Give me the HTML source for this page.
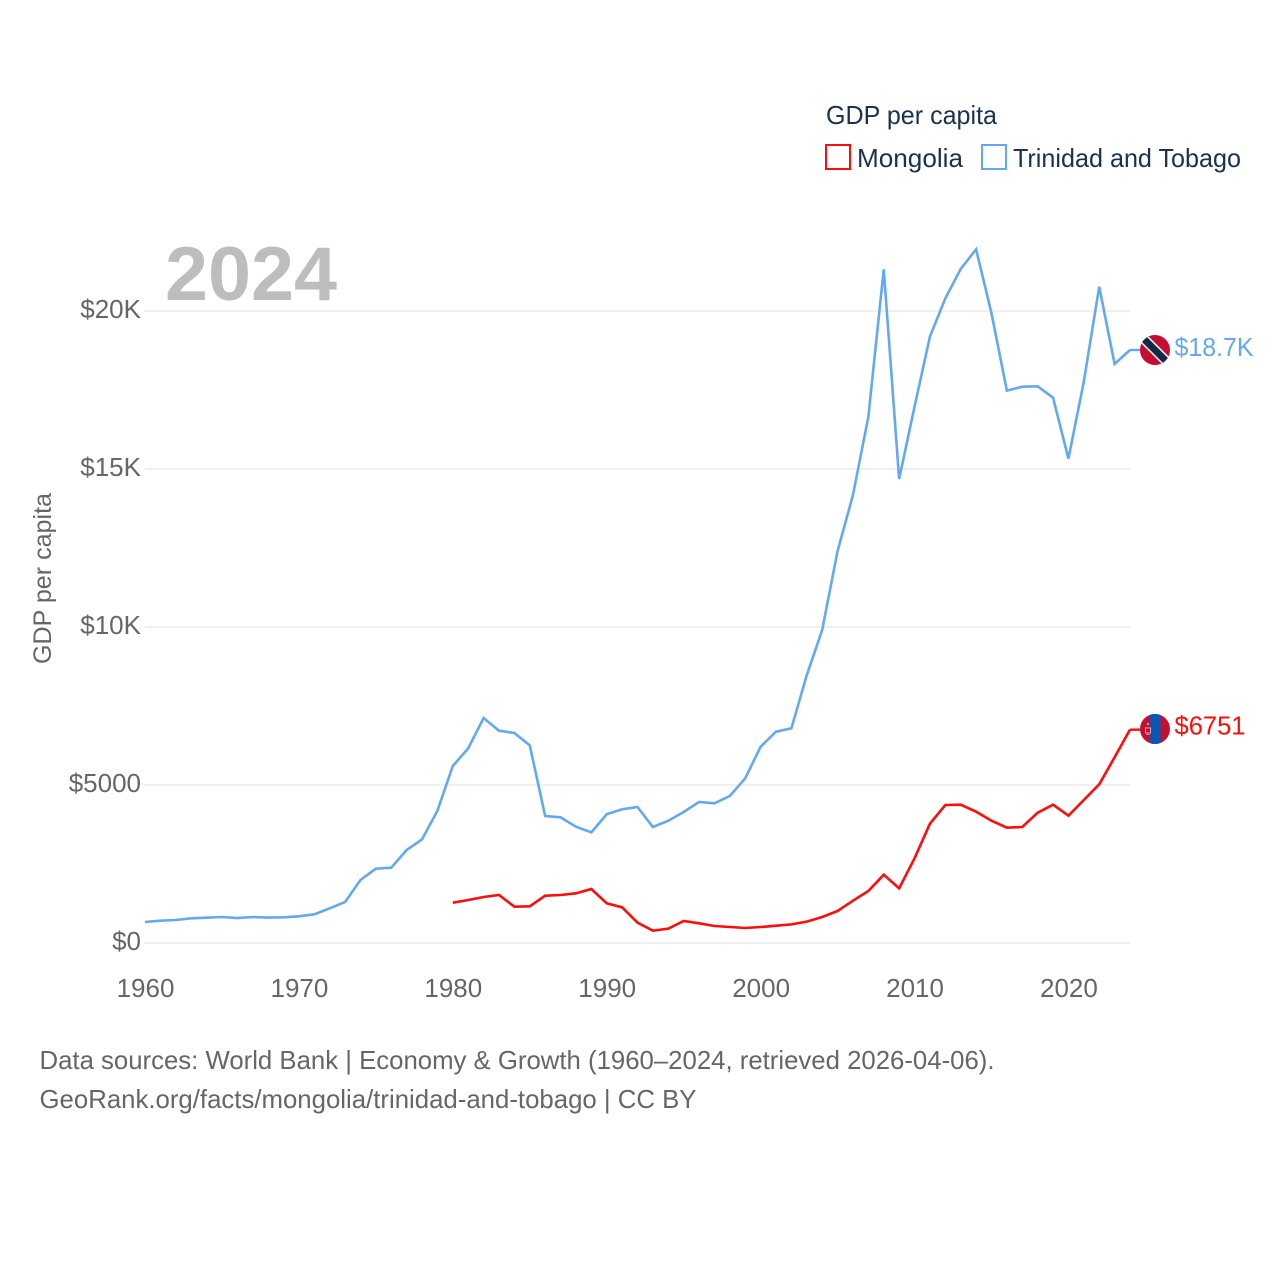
<!DOCTYPE html>
<html lang="en">
<head>
<meta charset="utf-8">
<title>GDP per capita: Mongolia and Trinidad and Tobago</title>
<style>
html,body{margin:0;padding:0;background:#fff;width:1280px;height:1280px;overflow:hidden}
svg{display:block}
text{font-family:"Liberation Sans",sans-serif}
.tick{font-size:26px;fill:#666}
.legend{font-size:26px;fill:#1b3152}
</style>
</head>
<body>
<svg id="chart" xmlns="http://www.w3.org/2000/svg" width="1280" height="1280" viewBox="0 0 1280 1280">
  <rect x="0" y="0" width="1280" height="1280" fill="#fff"/>
  <g id="grid"></g>
  <text x="165" y="300" font-size="76" font-weight="700" fill="#bdbdbd" textLength="172" lengthAdjust="spacingAndGlyphs">2024</text>
  <g id="yticks"></g>
  <g id="xticks"></g>
  <text transform="translate(51 664) rotate(-90)" font-size="25" fill="#666" textLength="171" lengthAdjust="spacingAndGlyphs">GDP per capita</text>
  <g id="series"></g>

  <g>
    <text class="legend" x="826" y="124" textLength="171" lengthAdjust="spacingAndGlyphs">GDP per capita</text>
    <g>
      <rect x="826" y="145" width="24" height="24" fill="none" stroke="#ff0d0d" stroke-width="2"/>
      <text class="legend" x="857" y="167" textLength="106" lengthAdjust="spacingAndGlyphs">Mongolia</text>
    </g>
    <g>
      <rect x="982" y="145" width="24" height="24" fill="none" stroke="#63a9ef" stroke-width="2"/>
      <text class="legend" x="1013" y="167" textLength="228" lengthAdjust="spacingAndGlyphs">Trinidad and Tobago</text>
    </g>
  </g>

  <defs>
    <clipPath id="flag-clip"><circle cx="0" cy="0" r="15"/></clipPath>
  </defs>
  <g id="flag-tt">
    <g clip-path="url(#flag-clip)">
      <rect x="-16" y="-16" width="32" height="32" fill="#c60c30"/>
      <line x1="-16" y1="-16" x2="16" y2="16" stroke="#fff" stroke-width="10"/>
      <line x1="-16" y1="-16" x2="16" y2="16" stroke="#14294a" stroke-width="7"/>
    </g>
  </g>
  <g id="flag-mn">
    <g clip-path="url(#flag-clip)">
      <rect x="-16" y="-16" width="32" height="32" fill="#c4102f"/>
      <rect x="-5.5" y="-16" width="11" height="32" fill="#0a56b4"/>
      <rect x="-9.5" y="-1" width="5" height="5" fill="none" stroke="#f3a0a8" stroke-width="1"/>
      <rect x="-8" y="-6" width="2" height="2" fill="#f3a0a8"/>
      <rect x="-8.5" y="5" width="3" height="1" fill="#f3a0a8"/>
    </g>
  </g>
  <text id="value-tt" x="1174.5" font-size="26" fill="#63a9ef" textLength="79" lengthAdjust="spacingAndGlyphs"></text>
  <text id="value-mn" x="1174.5" font-size="26" fill="#ff0d0d" textLength="71" lengthAdjust="spacingAndGlyphs"></text>

  <g>
    <text x="39.5" y="1069" font-size="26" fill="#666" textLength="955" lengthAdjust="spacingAndGlyphs">Data sources: World Bank | Economy &amp; Growth (1960–2024, retrieved 2026-04-06).</text>
    <text x="39.5" y="1108" font-size="26" fill="#666" textLength="657" lengthAdjust="spacingAndGlyphs">GeoRank.org/facts/mongolia/trinidad-and-tobago | CC BY</text>
  </g>
</svg>
<script>
const years = [1960,1961,1962,1963,1964,1965,1966,1967,1968,1969,1970,1971,1972,1973,1974,1975,1976,1977,1978,1979,1980,1981,1982,1983,1984,1985,1986,1987,1988,1989,1990,1991,1992,1993,1994,1995,1996,1997,1998,1999,2000,2001,2002,2003,2004,2005,2006,2007,2008,2009,2010,2011,2012,2013,2014,2015,2016,2017,2018,2019,2020,2021,2022,2023,2024];
const trinidadValues = [665,705,728,780,800,823,790,823,806,813,845,908,1097,1297,1994,2352,2383,2943,3281,4187,5601,6160,7120,6718,6646,6256,4019,3977,3681,3503,4073,4231,4304,3671,3870,4146,4462,4420,4652,5211,6212,6687,6794,8480,9905,12405,14177,16655,21319,14684,16972,19187,20400,21329,21952,19927,17478,17604,17616,17257,15327,17763,20769,18323,18766];
const mongoliaYears = [1980,1981,1982,1983,1984,1985,1986,1987,1988,1989,1990,1991,1992,1993,1994,1995,1996,1997,1998,1999,2000,2001,2002,2003,2004,2005,2006,2007,2008,2009,2010,2011,2012,2013,2014,2015,2016,2017,2018,2019,2020,2021,2022,2023,2024];
const mongoliaValues = [1275,1361,1456,1519,1149,1160,1498,1519,1572,1709,1255,1129,643,390,454,696,622,538,506,475,506,549,590,675,823,1013,1339,1646,2162,1730,2679,3775,4367,4377,4155,3870,3649,3671,4124,4377,4028,4525,5022,5877,6751];
const yTickValues = [0,5000,10000,15000,20000];
const yTickLabels = ["$0","$5000","$10K","$15K","$20K"];
const xTickValues = [1960,1970,1980,1990,2000,2010,2020];
const trinidadLabel = "$18.7K";
const mongoliaLabel = "$6751";

const NS = "http://www.w3.org/2000/svg";
const xScale = function (year) { return 145 + (year - 1960) * (1130 - 145) / 64; };
const yScale = function (value) { return 943 - value * 0.0316; };
function make(tag, parent, attrs) {
  const el = document.createElementNS(NS, tag);
  for (const key in attrs) { el.setAttribute(key, attrs[key]); }
  parent.appendChild(el);
  return el;
}
const gridGroup = document.getElementById("grid");
const yGroup = document.getElementById("yticks");
const xGroup = document.getElementById("xticks");
const seriesGroup = document.getElementById("series");

yTickValues.forEach(function (value, i) {
  const line = make("line", gridGroup, { x1: xScale(1960), x2: xScale(2024), y1: yScale(value), y2: yScale(value), stroke: "#ececec", "stroke-width": 1.6 });
  
  
  const label = make("text", yGroup, { x: 141, y: yScale(value) + 7, "text-anchor": "end", class: "tick" });
  
  
  label.textContent = yTickLabels[i];
});
xTickValues.forEach(function (year) {
  const label = make("text", xGroup, { x: xScale(year) + 0.5, y: 997, "text-anchor": "middle", class: "tick" });
  
  
  label.textContent = String(year);
});
function pointsFor(xs, ys) {
  return xs.map(function (year, i) { return xScale(year).toFixed(2) + "," + yScale(ys[i]).toFixed(2); }).join(" ");
}
const trinidadLine = make("polyline", seriesGroup, { points: pointsFor(years, trinidadValues), fill: "none", stroke: "#63a9ef", "stroke-width": 2.6, "stroke-linejoin": "miter" });


const mongoliaLine = make("polyline", seriesGroup, { points: pointsFor(mongoliaYears, mongoliaValues), fill: "none", stroke: "#ff0d0d", "stroke-width": 2.6, "stroke-linejoin": "miter" });



function endMarker(flagId, labelId, labelText, lastValue, color, connectorName, flagDy, labelDy) {
  const y = yScale(lastValue);
  const x = xScale(2024);
  const connector = make("line", seriesGroup, { x1: x, x2: x + 10, y1: y, y2: y, stroke: color, "stroke-width": 2.4 });
  
  
  document.getElementById(flagId).setAttribute("transform", "translate(" + (x + 25) + " " + (y + flagDy) + ")");
  const label = document.getElementById(labelId);
  label.setAttribute("y", y + labelDy);
  label.textContent = labelText;
}
endMarker("flag-tt", "value-tt", trinidadLabel, trinidadValues[trinidadValues.length - 1], "#63a9ef", "trinidad-and-tobago-connector", 0, 6);
endMarker("flag-mn", "value-mn", mongoliaLabel, mongoliaValues[mongoliaValues.length - 1], "#ff0d0d", "mongolia-connector", -0.7, 5);
</script>
</body>
</html>
